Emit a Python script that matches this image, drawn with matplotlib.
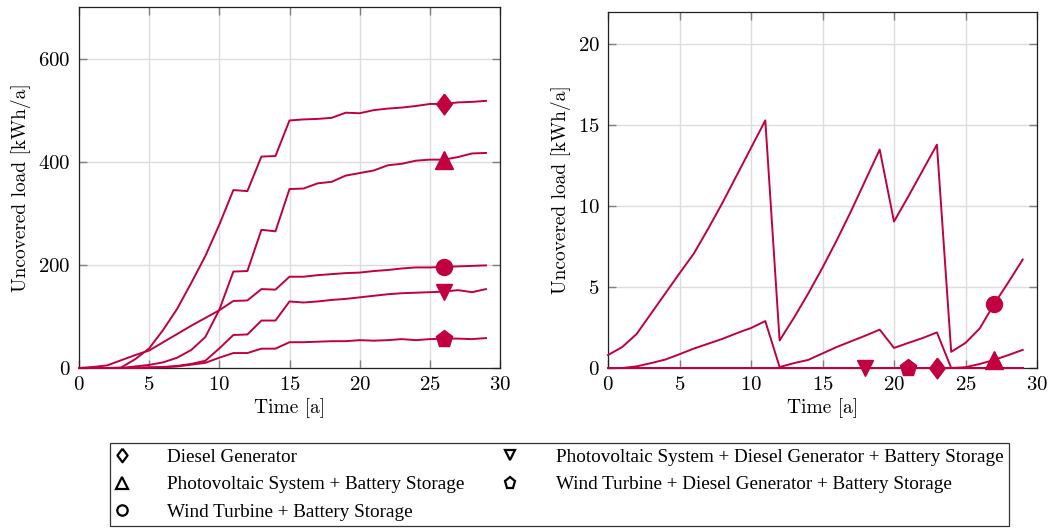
import matplotlib
matplotlib.use("Agg")
import matplotlib.pyplot as plt
from matplotlib.lines import Line2D

plt.rcParams['font.family'] = 'cmr10'
plt.rcParams['axes.formatter.use_mathtext'] = True
plt.rcParams['mathtext.fontset'] = 'cm'

RED = '#c10040'

years = list(range(30))

# left panel: uncovered load per scenario
diesel_left = [0, 0, 0, 1, 17, 38, 74, 115, 165, 217, 278, 345, 343, 410, 411,
               480, 482, 483, 485, 495, 494, 500, 503, 505, 508, 512, 512, 515, 516, 518]
pv_bat_left = [0, 0, 0, 0, 3, 6, 11, 20, 35, 60, 113, 187, 188, 268, 265,
               347, 348, 358, 361, 373, 378, 383, 393, 396, 402, 404, 404, 409, 416, 417]
wind_bat_left = [0, 2, 5, 15, 25, 34, 50, 66, 82, 97, 112, 130, 131, 153, 152,
                 177, 177, 180, 182, 184, 185, 188, 190, 193, 195, 195, 196, 197, 198, 199]
pv_diesel_bat_left = [0, 0, 0, 0, 0, 1, 2, 4, 8, 14, 38, 64, 65, 92, 92,
                      129, 127, 129, 132, 134, 137, 140, 143, 145, 146, 147, 148, 151, 147, 153]
wind_diesel_bat_left = [0, 0, 0, 0, 0.5, 1, 1.5, 3, 6.5, 10, 20, 29, 29, 37.5, 37.5,
                        50, 50, 51, 52, 52, 54, 53, 54, 56, 54, 56, 57, 57, 56, 58]

# right panel
diesel_right = [0] * 30
pv_bat_right = [0, 0, 0.1, 0.3, 0.52, 0.85, 1.2, 1.5, 1.8, 2.15, 2.47, 2.9, 0.06, 0.3, 0.5,
                0.9, 1.3, 1.65, 2.0, 2.37, 1.24, 1.55, 1.85, 2.2, 0, 0.05, 0.25, 0.5, 0.8, 1.12]
wind_bat_right = [0.8, 1.3, 2.1, 3.35, 4.6, 5.85, 7.07, 8.6, 10.2, 11.9, 13.6, 15.3, 1.7, 3.1, 4.6,
                  6.2, 7.9, 9.7, 11.6, 13.5, 9.05, 10.6, 12.2, 13.8, 1.0, 1.55, 2.45, 3.95, 5.3, 6.7]
pv_diesel_bat_right = [0] * 30
wind_diesel_bat_right = [0] * 30

labels = ['Diesel Generator',
          'Photovoltaic System + Battery Storage',
          'Wind Turbine + Battery Storage',
          'Photovoltaic System + Diesel Generator + Battery Storage',
          'Wind Turbine + Diesel Generator + Battery Storage']

# pgfplots-like diamond (taller than wide)
diamond = [(0, 1), (0.75, 0), (0, -1), (-0.75, 0), (0, 1)]
markers = [diamond, '^', 'o', 'v', 'p']
msizes = [15, 12.5, 11.5, 11.5, 12.5]

left_series = [diesel_left, pv_bat_left, wind_bat_left, pv_diesel_bat_left, wind_diesel_bat_left]
right_series = [diesel_right, pv_bat_right, wind_bat_right, pv_diesel_bat_right, wind_diesel_bat_right]
left_marks = [26, 26, 26, 26, 26]
right_marks = [23, 27, 27, 18, 21]

fig = plt.figure(figsize=(10.63, 5.30), dpi=100)
ax1 = fig.add_axes([79 / 1063, 1 - 368 / 530, 421 / 1063, 361 / 530])
ax2 = fig.add_axes([608 / 1063, 1 - 368 / 530, 429 / 1063, 356 / 530])


def style(ax, ymax, yticks):
    ax.set_xlim(0, 30)
    ax.set_ylim(0, ymax)
    ax.set_xticks(range(0, 31, 5))
    ax.set_yticks(yticks)
    ax.grid(True, color='#dcdcdc', lw=1.0)
    ax.set_axisbelow(True)
    ax.tick_params(direction='in', length=6, width=1.0, color='#808080',
                   top=True, right=True, labelsize=15, pad=6)
    for s in ax.spines.values():
        s.set_linewidth(0.9)
        s.set_color('#222222')
    ax.set_xlabel('Time [a]', fontsize=14, labelpad=3)
    ax.set_ylabel('Uncovered load [kWh/a]', fontsize=14, labelpad=5)


for ax, series, marks in [(ax1, left_series, left_marks), (ax2, right_series, right_marks)]:
    for vals, mk, ms, idx in zip(series, markers, msizes, marks):
        ax.plot(years, vals, color=RED, lw=1.4, marker=mk, markersize=ms,
                markevery=[idx], markerfacecolor=RED, markeredgecolor=RED,
                clip_on=False, zorder=3)

style(ax1, 700, [0, 200, 400, 600])
style(ax2, 22, [0, 5, 10, 15, 20])

handles = [Line2D([], [], ls='none', marker=mk, markersize=ms * 0.65,
                  markerfacecolor='white', markeredgecolor='black', markeredgewidth=1.6)
           for mk, ms in zip(markers, msizes)]
leg = fig.legend(handles, labels, ncol=2, loc='upper left',
                 bbox_to_anchor=(110 / 1063, 1 - 443 / 530), borderaxespad=0,
                 prop={'family': 'Liberation Serif', 'size': 13.8},
                 frameon=True, fancybox=False, edgecolor='#333333', framealpha=1,
                 borderpad=0.28, handlelength=0.65, handletextpad=2.05,
                 columnspacing=2.05, labelspacing=0.53)
leg.get_frame().set_linewidth(0.9)

fig.savefig('out.png', dpi=100)
